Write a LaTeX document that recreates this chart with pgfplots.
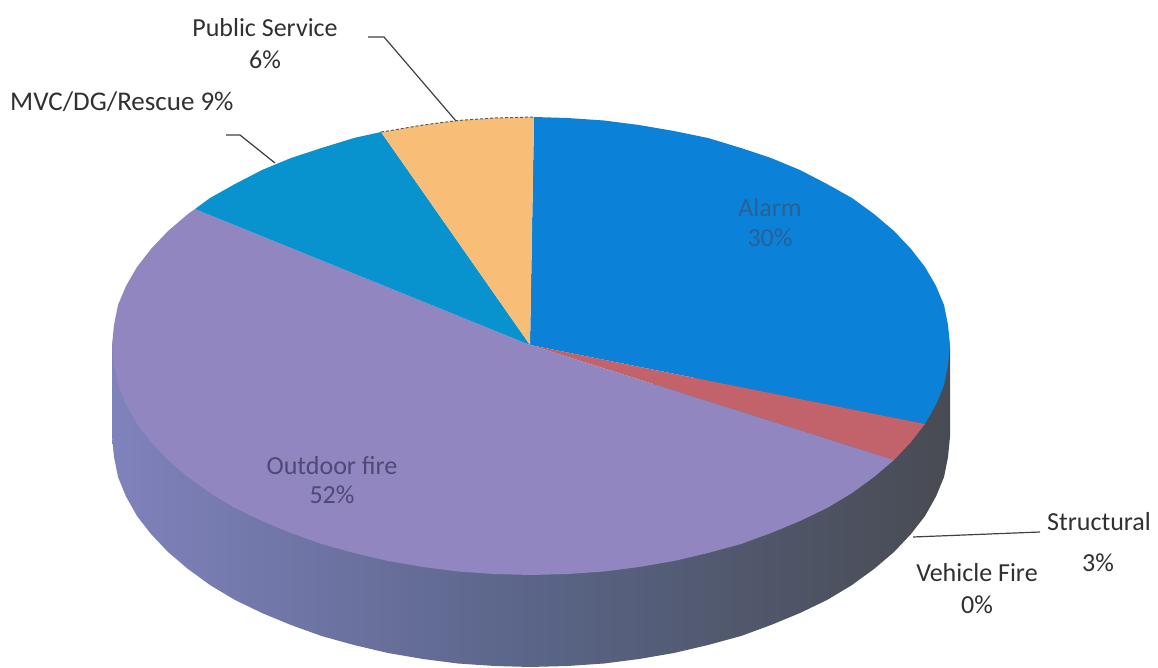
\documentclass[border=0pt]{standalone}
\usepackage{pgfplots}
\pgfplotsset{compat=1.18}
\usepackage{fontspec}
\setmainfont{Carlito}
\definecolor{alarmc}{HTML}{0B82D8}
\definecolor{structc}{HTML}{C2626B}
\definecolor{outdoorc}{HTML}{9186BF}
\definecolor{mvcc}{HTML}{0993CE}
\definecolor{publicc}{HTML}{F8BE78}
\definecolor{sidea}{HTML}{8082BC}
\definecolor{sideb}{HTML}{5A6588}
\definecolor{sidec}{HTML}{484B52}
\definecolor{txt}{HTML}{303030}
\definecolor{alarmtxt}{HTML}{2A6098}
\definecolor{outdoortxt}{HTML}{4D4A78}
\tikzset{lab/.style={font=\fontsize{26}{28}\selectfont, color=txt}}
\begin{document}
\begin{tikzpicture}
\useasboundingbox (0,0) rectangle (1158pt,668pt);
\begin{axis}[
    scale only axis, width=1158pt, height=668pt,
    xmin=0, xmax=1158, ymin=0, ymax=668,
    y dir=reverse, hide axis, clip=false,
]
% side wall, left and right half
\addplot[draw=none, left color=sidea, right color=sideb] coordinates {
    (112,345) (112,437) (114,457) (118,477) (126,496.5) (137,516) (151,534) (168,552) (188,569)
    (210,585) (235,600) (262,613) (291,625) (321.5,636) (354,645) (388,653) (423,659) (458,663.5)
    (494.5,666) (531,667) (531,500)
} -- cycle;
\addplot[draw=none, left color=sideb, right color=sidec] coordinates {
    (529,667) (567.5,666) (604,663.5) (639,659) (674,653) (708,645) (741,636) (771,625) (800,613)
    (827,600) (852,585) (874,569) (894,552) (911,534) (925,516) (936,496.5) (944,477) (948,457)
    (950,437) (950,345) (529,400)
} -- cycle;
% Alarm
\addplot[draw=none, fill=alarmc] coordinates {
    (530,345) (534,117) (567.5,118) (604,120.5) (639,125) (674,131) (708,138) (741,148) (771,158)
    (800,170) (827,184) (852,198) (874,214) (894,231) (911,249) (925,267) (936,286) (944,305)
    (948,325) (950,345) (948,365) (944,385) (936,404.5) (925,424)
} -- cycle;
% Structural
\addplot[draw=none, fill=structc] coordinates {
    (530,345) (925,424) (911,442) (894,460)
} -- cycle;
% Outdoor fire
\addplot[draw=none, fill=outdoorc] coordinates {
    (530,345) (894,460) (874,477) (852,493) (827,508) (800,521) (771,533) (741,544) (708,553)
    (674,561) (639,567) (604,571.5) (567.5,574) (531,575) (494.5,574) (458,571.5) (423,567)
    (388,561) (354,553) (321.5,544) (291,533) (262,521) (235,508) (210,493) (188,477) (168,460)
    (151,442) (137,424) (126,404.5) (118,385) (114,365) (112,345) (114,325) (118,305) (126,286)
    (137,267) (151,249) (168,231) (188,214) (195,209)
} -- cycle;
% MVC/DG/Rescue
\addplot[draw=none, fill=mvcc] coordinates {
    (530,345) (195,209) (210,198) (235,184) (262,170) (291,158) (321.5,148) (354,138) (381,132)
} -- cycle;
% Public Service
\addplot[draw=none, fill=publicc] coordinates {
    (530,345) (381,132) (388,131) (423,125) (458,120.5) (494.5,118) (534,117)
} -- cycle;
\addplot[densely dashed, line width=1pt, color=black!65] coordinates {
    (381,132) (388,131) (423,125) (458,120.5) (494.5,118) (534,117)
};
% leader lines
\addplot[line width=1.2pt, color=black!75] coordinates {(368,37) (384,37) (456,121)};
\addplot[line width=1.2pt, color=black!75] coordinates {(226,135) (240,135) (275,163)};
\addplot[line width=1.2pt, color=black!75] coordinates {(913,537) (1040,532)};
% labels
\node[lab] at (axis cs:265,28) {Public Service};
\node[lab] at (axis cs:265,60) {6\%};
\node[lab, anchor=west, inner sep=0pt, font=\fontsize{27}{29}\selectfont] at (axis cs:10,102) {MVC/DG/Rescue 9\%};
\node[lab, color=alarmtxt] at (axis cs:770,208) {Alarm};
\node[lab, color=alarmtxt] at (axis cs:770,238) {30\%};
\node[lab, color=outdoortxt] at (axis cs:332,466) {Outdoor fire};
\node[lab, color=outdoortxt] at (axis cs:332,495) {52\%};
\node[lab, anchor=west, inner sep=0pt] at (axis cs:1047,522) {Structural};
\node[lab] at (axis cs:1098,563) {3\%};
\node[lab] at (axis cs:977,573) {Vehicle Fire};
\node[lab] at (axis cs:977,605) {0\%};
\end{axis}
\end{tikzpicture}
\end{document}
